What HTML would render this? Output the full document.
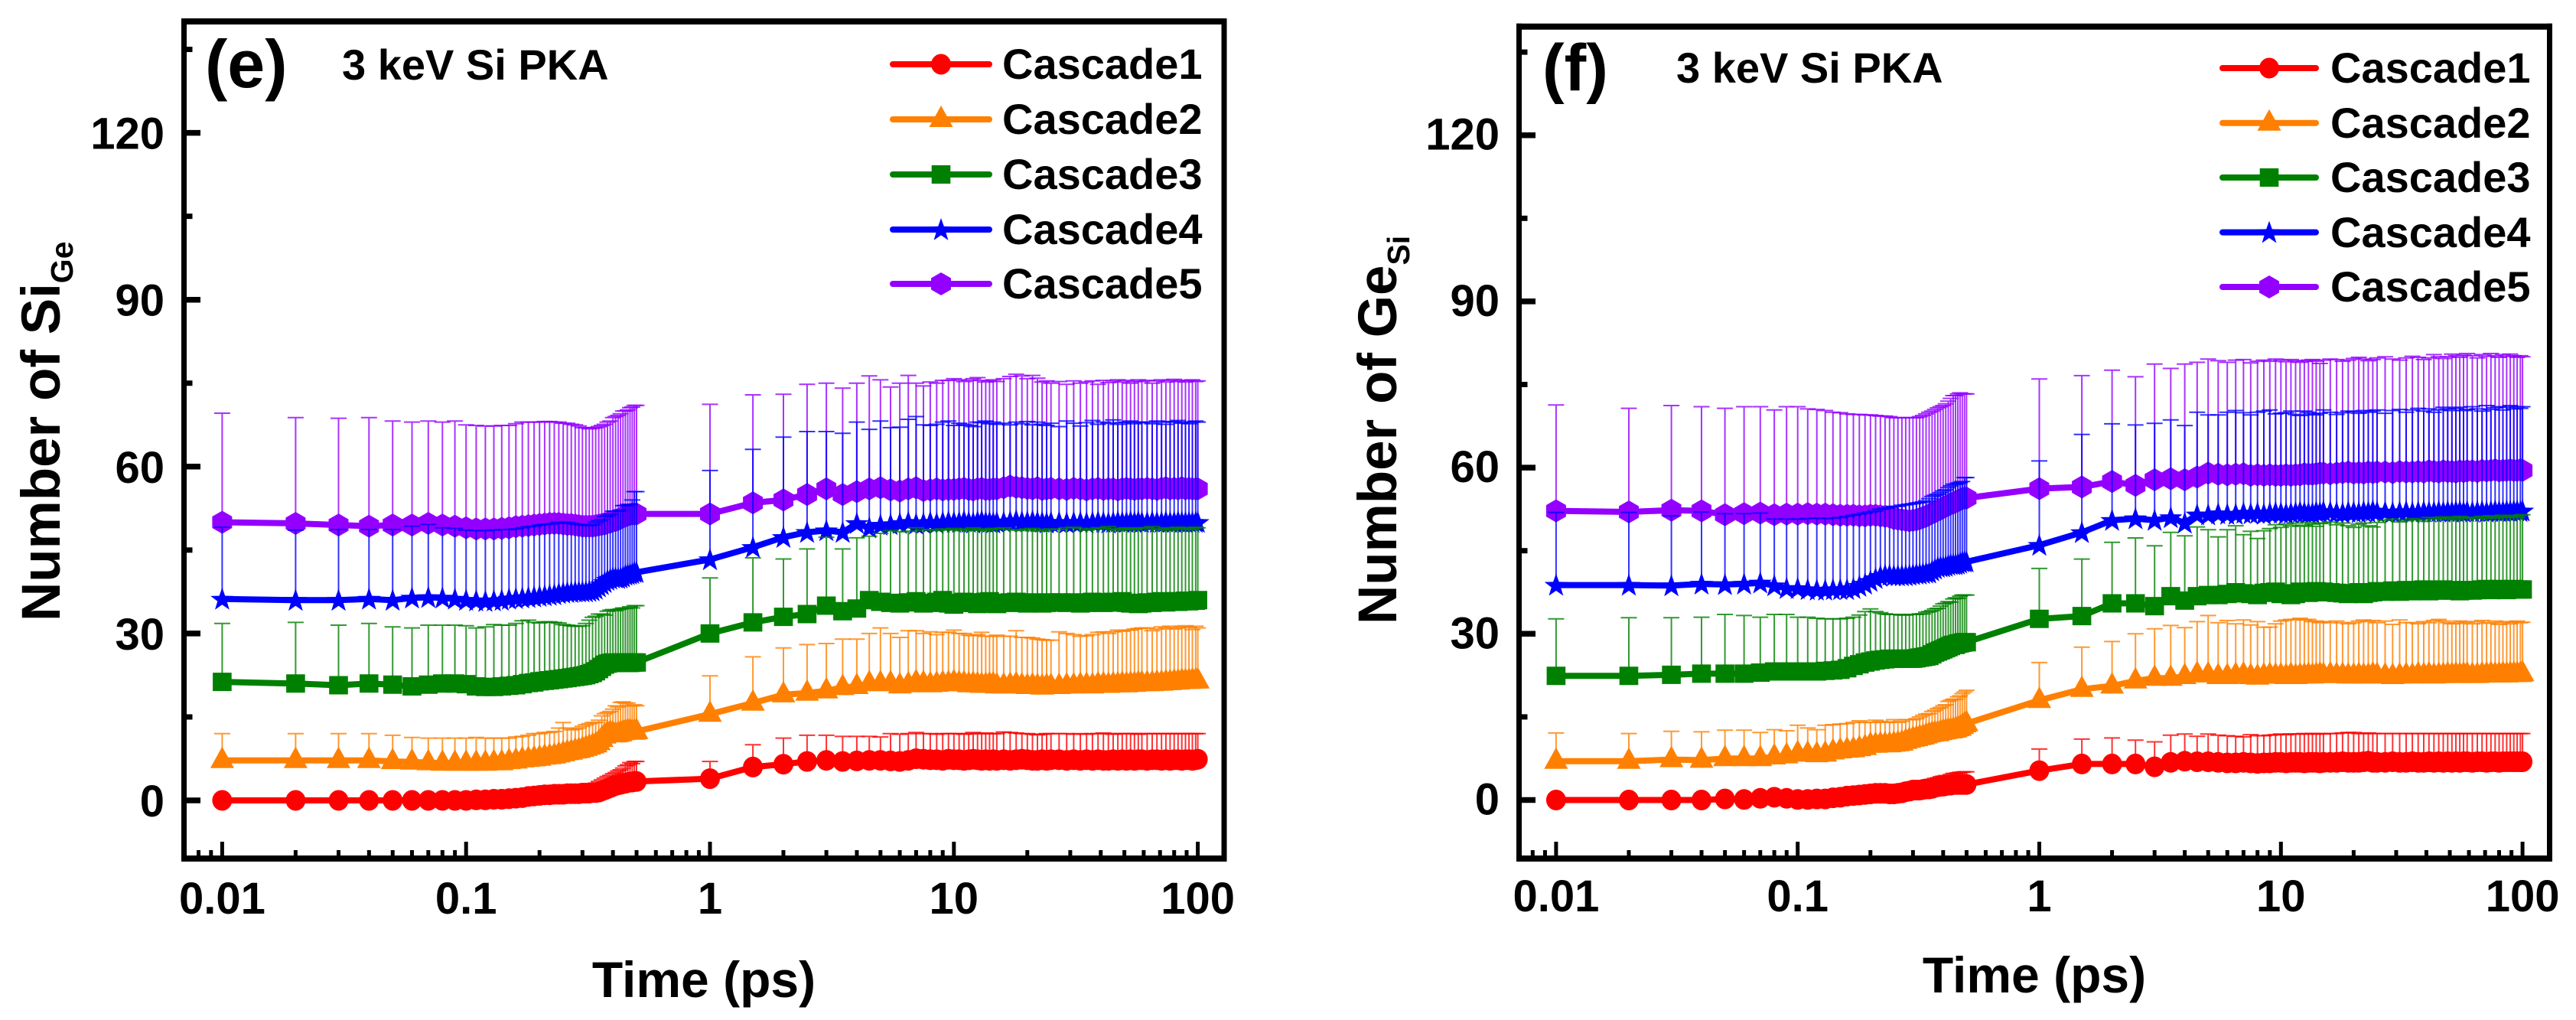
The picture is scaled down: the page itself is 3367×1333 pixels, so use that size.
<!DOCTYPE html>
<html lang="en">
<head>
<meta charset="utf-8">
<title>Number of antisite defects vs time for 3 keV Si PKA</title>
<style>
html,body{margin:0;padding:0;background:#fff;}
svg{display:block;}
text{font-family:"Liberation Sans",Arial,sans-serif;font-weight:bold;fill:#000;}
</style>
</head>
<body>
<svg id="figure" xmlns="http://www.w3.org/2000/svg" width="3367" height="1333" viewBox="0 0 3367 1333">
<rect x="0" y="0" width="3367" height="1333" fill="#fff"/>
<g id="panel-e">
<text x="268" y="114" font-size="88">(e)</text>
<text x="447" y="104" font-size="56">3 keV Si PKA</text>
<text x="920" y="1303" font-size="66" text-anchor="middle">Time (ps)</text>
<text transform="translate(78,812) rotate(-90)" font-size="71">Number of Si<tspan dy="17" font-size="41">Ge</tspan></text>
<text x="1310" y="103" font-size="56">Cascade1</text>
<text x="1310" y="175" font-size="56">Cascade2</text>
<text x="1310" y="247" font-size="56">Cascade3</text>
<text x="1310" y="319" font-size="56">Cascade4</text>
<text x="1310" y="390" font-size="56">Cascade5</text>
</g>
<g id="panel-f">
<text x="2016" y="118" font-size="86">(f)</text>
<text x="2191" y="108" font-size="56">3 keV Si PKA</text>
<text x="2659" y="1297" font-size="66" text-anchor="middle">Time (ps)</text>
<text transform="translate(1825,816) rotate(-90)" font-size="71">Number of Ge<tspan dy="17" font-size="41">Si</tspan></text>
<text x="3046" y="108" font-size="56">Cascade1</text>
<text x="3046" y="180" font-size="56">Cascade2</text>
<text x="3046" y="251" font-size="56">Cascade3</text>
<text x="3046" y="323" font-size="56">Cascade4</text>
<text x="3046" y="394" font-size="56">Cascade5</text>
</g>
</svg>
<script>
const times=[0.01,0.02,0.03,0.04,0.05,0.06,0.07,0.08,0.09,0.1,0.11,0.12,0.13,0.14,0.15,0.16,0.17,0.18,0.19,0.2,0.21,0.22,0.23,0.24,0.25,0.26,0.27,0.28,0.29,0.3,0.31,0.32,0.33,0.34,0.35,0.36,0.37,0.38,0.39,0.4,0.41,0.42,0.43,0.44,0.45,0.46,0.47,0.48,0.49,0.5,
1,1.5,2,2.5,3,3.5,4,4.5,5,5.5,6,6.5,7,7.5,8,8.5,9,9.5,10,
10.5,11,11.5,12,12.5,13,13.5,14,14.5,15,16,17,18,19,20,21,22,23,24,25,
27,29,31,33,35,37,39,41,43,45,47,49,51,53,55,57,59,
62,65,68,71,74,77,80,83,86,89,92,95,98,100];

const eMean1=[0,0,0,0,0,0,0,0,0,0,.1,.1,.2,.2,.3,.4,.5,.7,.8,.9,1,1,1.1,1.1,1.1,1.2,1.2,1.2,1.2,1.3,1.3,1.3,1.4,1.4,1.5,1.7,1.9,2.1,2.3,2.5,2.7,2.8,2.9,3,3.1,3.2,3.3,3.3,3.4,3.4,
3.9,6,6.5,7,7.2,7,7.1,7.2,7.2,7.1,7,7.2,7.5,7.4,7.3,7.3,7.2,7.4,7.3,
7.3,7.2,7.3,7.4,7.3,7.2,7.3,7.2,7.3,7.2,7.3,7.2,7.3,7.4,7.3,7.2,7.2,7.3,7.2,7.3,
7.3,7.2,7.3,7.2,7.3,7.2,7.3,7.2,7.2,7.3,7.2,7.3,7.2,7.3,7.2,7.3,7.3,
7.2,7.3,7.3,7.2,7.3,7.2,7.3,7.3,7.2,7.3,7.3,7.2,7.3,7.4];
const eTop1=[0,0,0,0,0,0,0,0,0,0,.4,.5,.6,.6,.8,1,1.2,1.4,1.6,1.8,1.9,2,2,2.1,2.1,2.2,2.2,2.3,2.4,2.5,2.6,2.7,2.9,3.1,3.4,3.7,4,4.3,4.5,4.8,5,5.3,5.5,5.8,6.2,6.4,6.8,6.6,7,7,
7,10,11.2,11.7,11.7,11.5,11.5,11.5,11.4,12,11.9,12,12.2,12,12,11.9,12,12,12,
12,11.9,12,12.2,12,12,12.1,12,12,12,12.3,12.2,12.1,12,12,11.9,11.8,11.9,12,12,
12,12,11.9,12,11.9,12,12,12.1,12,11.9,12,12,12,12,12,11.9,12,
12,12,12,12,12,12,12,12,12,12,12,12,12,12];
const eMean2=[7.2,7.2,7.2,7.2,7,6.9,6.8,6.7,6.7,6.7,6.7,6.7,6.8,6.8,7,7.1,7.3,7.4,7.5,7.6,7.8,7.9,8,8.2,8.4,8.6,8.7,8.9,9,9.2,9.4,9.6,9.8,10,10.4,11,11.6,12,12.1,12,11.8,11.9,12,12.2,12.3,12.4,12.4,12.3,12.3,12.4,
15.5,17.5,19,19.3,19.7,20.3,20.5,21,21,21,20.6,20.8,21.2,21,20.8,20.9,21,21,21.2,
21,21,20.8,20.9,20.8,20.7,20.7,20.8,20.8,20.6,20.6,20.7,20.8,20.6,20.5,20.6,20.5,20.4,20.5,20.5,
20.5,20.6,20.6,20.7,20.7,20.6,20.8,20.8,20.7,20.8,20.8,20.9,20.8,20.9,20.9,21,21,
21,21,21.1,21.1,21.2,21.2,21.3,21.3,21.4,21.4,21.4,21.5,21.5,21.5];
const eTop2=[12,12,12,12,11.7,11.3,11.2,11.2,11.2,11.2,11.3,11.2,11.2,11.2,11.2,11.4,11.5,11.7,12,12,12.2,12.2,12.4,13,14,13,12.7,12.8,13,13.3,13.6,13.8,14,14,14.4,15.2,15.6,15.8,16,16.4,17,16.8,17.6,17.7,17.5,17.5,17,17,17.2,17,
22.4,25.8,27.4,28,28.2,29,29,30,31,30,29.3,30.5,30.5,30,30.3,29.8,30.2,30.2,30.6,
30,30,29.7,29.6,29.8,30.2,29.5,29.5,29.5,29.7,29.5,29.5,30.5,29.3,29.3,29.2,29,28.9,28.8,28.8,
30.3,30,29.8,29.5,29.6,29.8,30.2,30.3,30,30.3,30.6,30.4,30.6,30.6,30.8,30.9,31,
31,30.5,30.8,31.2,31,31.3,30.8,31,31.2,31.4,31.1,30.7,31.3,31];
const eMean3=[21.3,21,20.7,21,20.8,20.5,20.8,21,21,20.9,20.5,20.4,20.4,20.5,20.6,20.7,20.9,21.1,21.2,21.4,21.5,21.6,21.7,21.8,21.9,22,22.1,22.2,22.3,22.4,22.5,22.7,22.9,23.2,23.6,24,24.4,24.6,24.7,24.8,24.7,24.7,24.8,24.8,24.7,24.7,24.7,24.8,24.8,24.8,
30,32,33,33.5,35,34,34.5,36,35.7,35.5,35.4,35.6,35.8,35.4,35.5,35.7,36,35.4,35.2,
35.5,35.7,35.6,35.5,35.3,35.6,35.7,35.8,35.4,35.3,35.5,35.6,35.7,35.5,35.4,35.6,35.5,35.4,35.5,35.6,
35.6,35.5,35.6,35.4,35.5,35.7,35.6,35.5,35.6,35.7,35.6,35.8,35.5,35.4,35.5,35.3,35.4,
35.6,35.5,35.7,35.8,35.6,35.7,35.8,35.7,35.8,35.9,35.8,35.9,35.9,36];
const eTop3=[31.8,32,31.5,31.8,31.2,31,31.5,31.5,31.5,31.4,31,31.2,31.6,31.5,31.5,31.8,32.3,32.4,32,31.9,32.1,32.1,32,31.9,31.6,31.5,31.4,31.3,31.3,31.4,31.8,32.4,32.9,33.1,33.5,33.5,33.3,34,34.2,34.3,34.1,34.3,34.4,34.6,34.5,34.6,34.8,34.6,35,35,
40,43.6,43.4,45.2,47.3,45.2,47.2,47.5,48,48.5,48.3,48.4,49,48.6,48.7,48.5,48.8,48.6,48.9,
48.7,48.5,48.8,49,48.6,48.8,48.5,48.7,48.9,48.8,49,48.7,48.6,48.5,48.8,48.9,48.6,48.4,48.7,48.8,
48.7,49,49.1,48.9,48.6,48.8,49,48.9,49.2,48.8,48.6,48.9,49,48.8,48.7,48.9,49,
49,49.2,48.7,48.8,49,48.6,48.9,49.1,48.8,49,48.7,48.9,49.1,49];
const eMean4=[36.2,36,36,36.2,36,36.4,36.5,36.4,36.2,36,35.9,35.8,35.9,36,36.2,36.3,36.4,36.5,36.6,36.7,36.8,36.9,37,37.2,37.3,37.4,37.4,37.5,37.5,37.5,37.5,37.6,37.7,38,38.4,38.8,39.2,39.6,39.8,40,40,39.9,40,40.2,40.5,40.6,40.7,40.8,41,41,
43.3,45.5,47.3,48.2,48.5,48.2,49.8,49,49.5,49.6,49.8,50,49.7,49.8,50,49.8,50,50.1,50,
50,50.2,50,49.9,50.1,50.2,50,50,49.9,50,50,50.1,50.3,50.1,50.1,50.2,50.1,50,49.9,50,
50,49.9,50,50,49.9,50,50.1,50,49.9,50,50.1,50,50,50.1,50,50.1,50,
50,50.1,50,50,50.1,50,50,50.1,50,50,50,50,50,50];
const eTop4=[49.1,48.6,48.7,48.7,48.7,49.3,49.6,49,48.9,48.6,48.5,48.5,48.6,48.7,48.7,48.8,49,49.2,49.3,49.5,49.6,49.7,49.8,50,50,50,49.8,49.7,49.6,49.5,49.5,49.4,49.6,50,50.3,50.5,51,51.2,51.5,52,52,52,52.2,53,53,53.2,53.2,54,55.5,55.5,
59.3,63.1,65.3,66.3,66.3,66,68,66.7,68.2,67,67.1,68.5,69,67.5,67.4,67.6,68,68.2,67.4,
67.8,67.6,67.4,67.2,68,67.9,68.2,67.7,68,67.6,67.8,67.5,68,67.7,68.1,67.5,68,67.6,67.4,67.8,
67.2,68.2,67.8,67.3,67.9,68.3,67.6,68,67.8,68.4,67.6,67.9,68,68.2,67.7,68,67.9,
68,67.7,68.2,68,67.6,68.1,68,68.3,67.8,68,67.7,68,68.2,68];
const eMean5=[50,49.8,49.5,49.3,49.5,49.5,49.8,49.5,49.3,49,48.8,48.8,48.8,48.9,49,49.2,49.3,49.4,49.5,49.6,49.7,49.8,49.8,49.8,49.7,49.6,49.6,49.5,49.4,49.3,49.3,49.3,49.3,49.4,49.5,49.6,49.7,49.9,50,50.2,50.3,50.5,50.7,51,51.1,51.3,51.4,51.5,51.5,51.5,
51.5,53.5,54,55,56,55,55.5,56,56.2,55.8,55.6,56,56.2,55.7,55.8,56,55.8,55.9,55.9,
56,56.1,55.9,55.8,56,56.1,55.9,55.9,56,56,56.2,56.5,56.3,56.2,56.1,56,56.2,55.9,56,56.1,
56,55.9,56.1,56,55.8,56,56.1,55.9,56,56,55.8,56,56.1,56,55.9,56,56,
56.1,56,55.9,56.1,56.2,56,56.1,56,56.2,56,56.1,56,56,56];
const eTop5=[69.6,68.8,68.7,68.8,68.2,68,68.2,68,68.2,67.5,67.4,67.3,67.3,67.4,67.4,67.7,68,68,68,68,68.1,68.1,68,68,67.8,67.8,67.6,67.5,67.3,67,67,66.8,66.9,67,67.2,67.4,67.6,68,68.2,68.8,69,69.2,69.5,70,70,70.2,70.6,70.7,71,71,
71.2,72.9,73,74.8,75,74.1,75,76.3,75.6,74.3,75,76.4,75,74.5,75.2,75,75.5,75.5,75.8,
75.6,75.3,75.5,75.8,76,75.5,75.2,75.4,75.6,75.3,75.8,76.2,76.6,76.3,75.8,76.4,75.9,75.2,75.4,75,
75.3,74.8,75.4,75,75.2,75.4,74.8,75.5,75.1,75.4,75.6,75.2,75.5,75,75.3,75.6,75.3,
75.5,75,75.4,75.6,75.2,75.5,75.7,75.3,75.5,75.2,75.5,75.6,75.3,75.4];

const fMean1=[0,0,0,0,.2,.1,.3,.5,.3,.1,.1,.2,.2,.4,.5,.7,.8,.9,1,1.1,1.2,1.2,1.2,1.1,1.1,1.2,1.3,1.5,1.6,1.8,1.8,1.8,1.9,2,2,2.1,2.3,2.4,2.5,2.5,2.6,2.7,2.7,2.8,2.8,2.8,2.8,2.8,2.8,2.8,
5.3,6.5,6.5,6.5,6,6.8,7,6.9,6.9,6.8,6.7,6.7,6.8,6.7,6.6,6.7,6.7,6.8,6.8,
6.7,6.8,6.8,6.8,6.7,6.8,6.8,6.8,6.7,6.8,6.8,6.8,6.9,6.8,6.8,6.8,6.9,7,6.8,6.8,
6.8,6.9,6.8,6.8,6.9,6.8,6.8,6.9,6.8,6.9,6.8,6.9,6.8,6.9,6.8,6.9,6.9,
6.8,6.9,6.9,6.8,6.9,6.9,6.8,6.9,6.9,6.9,6.9,6.9,6.9,6.9];
const fTop1=[0,0,0,0,.5,.4,.8,1,.8,.5,.5,.7,.8,1,1.2,1.4,1.5,1.7,1.8,1.9,2,2,2.1,2.1,2.2,2.3,2.4,2.6,2.7,3,3,3.1,3.3,3.5,3.6,3.7,3.9,4,4.2,4.3,4.4,4.4,4.6,4.8,4.8,4.9,5,5,5.1,5.1,
9.2,11,11.2,10.8,10.5,11.7,11.9,11.5,11.9,11.7,11.6,11.5,11.4,11.8,11.6,11.6,11.7,11.8,11.9,
11.8,11.9,11.9,11.9,12,11.9,12,11.9,12,11.9,12,12,12.1,12.2,12.2,12,12,12.1,12,12,
12,12,12,12,12,12,12,12,12,12,12,12,12,12,12,12,12,
12,12,12,12,12,12,12,12,12,12,12,12,12,12];
const fMean2=[7,7,7.3,7.2,7.5,7.5,7.5,7.8,8,8.4,8.3,8.2,8.3,8.7,8.9,9,9.1,9.3,9.5,9.9,9.9,10,10,10,10.1,10.2,10.3,10.6,10.8,11,11.1,11.3,11.4,11.6,11.8,11.9,12,12,12.2,12.3,12.4,12.5,12.5,12.6,12.7,12.9,13,13.3,13.6,13.8,
18,20,20.6,21.5,22,22,22.3,22.7,22.6,22.3,22.3,22.5,22.6,22.3,22.2,22.4,22.5,22.4,22.4,
22.3,22.5,22.3,22.4,22.4,22.5,22.4,22.5,22.6,22.5,22.6,22.5,22.5,22.4,22.4,22.5,22.4,22.4,22.6,22.5,
22.4,22.3,22.4,22.5,22.4,22.6,22.5,22.6,22.4,22.5,22.5,22.6,22.5,22.6,22.5,22.6,22.6,
22.5,22.5,22.6,22.6,22.7,22.6,22.6,22.7,22.6,22.7,22.7,22.7,22.7,22.8];
const fTop2=[12.1,12,12.4,12.3,12.6,12.6,12.2,12.7,12.5,13.5,13,12.7,13.5,13.6,13.7,13.8,14,14.3,14,14,14.4,14.2,14,14.1,14.5,14,14.2,14.5,14.5,14.5,14.7,15,15.3,15.5,15.6,16,16.2,16.5,16.7,17,17.2,17.8,18,18.2,18.2,18.6,18.8,19.2,19.5,19.8,
24.8,27.6,28.6,30,30.9,31.5,31.1,32.2,33.3,32,32.4,31.8,32.5,31.6,32.2,31.2,31.2,31.8,32.3,
32.5,32.6,32.6,32.8,32.5,32.6,32.2,32.3,32,32.2,32,32.3,32,31.8,32,32.3,32.5,32.2,32.4,32,
32.3,31.7,32.5,32,32,31.8,32.2,32,32.4,32.6,32.3,32,31.8,31.9,32.3,32.2,32,
31.8,32.2,32.4,31.9,32,32.3,31.7,32,32.2,31.8,32.1,32.3,32,32.1];
const fMean3=[22.4,22.4,22.6,22.8,22.8,22.8,23,23.2,23.2,23.2,23.2,23.2,23.3,23.4,23.5,23.8,24.2,24.5,24.8,25,25.2,25.3,25.4,25.5,25.5,25.5,25.5,25.5,25.5,25.5,25.6,25.7,25.8,25.9,26,26.3,26.6,26.8,27,27.2,27.4,27.6,27.8,28,28,28.2,28.3,28.4,28.5,28.5,
32.7,33.2,35.5,35.5,35,36.8,36,36.8,37,37,37.2,37.5,37.3,37.2,37,37.4,37.5,37.6,37.2,
37.3,37,37.2,37.6,37.5,37.4,37.6,37.7,37.5,37.6,37.5,37.4,37.3,37.2,37.3,37.5,37.2,37.4,37.5,37.7,
37.6,37.8,37.6,37.9,37.7,37.8,38,37.7,37.9,37.8,38,37.8,37.9,37.8,37.7,37.8,37.9,
37.8,37.9,38,38.1,37.9,38,38.1,38,37.9,38,38.1,38,38,38];
const fTop3=[32.7,32.9,32.9,33,33.5,33.3,33,33.5,33.5,33,33,32.8,32.7,32.7,32.7,32.8,33,33.4,34,34.5,34,33.8,33.6,33.5,33.5,33.5,33.4,33.4,33.5,33.5,33.5,33.6,33.6,33.9,34,34.2,34.5,34.6,35,35.4,35.5,35.8,35.7,36.3,36.5,36.4,36.8,37,37,37,
41.8,43.5,46.5,47.3,45.9,48.3,47.7,49.3,48.8,47.5,48.8,49.5,47.9,48.5,47.2,48.6,49,49.7,49.2,
49.8,49.5,50,49.4,49.6,50.1,49.8,49.4,49.9,50,50.2,49.7,50,49.5,49.2,49.8,50,49.5,49.3,50.1,
50.5,50.7,50.2,50.4,50.8,50.6,50.3,51,50.7,50.9,51.1,50.8,51,50.6,51.2,50.9,51,
51,50.8,51.2,51,51.3,50.9,51.1,51.4,51,51.2,51.3,51,51.4,51.5];
const fMean4=[38.8,38.8,38.7,39,38.9,39,39.2,38.7,38.2,38.2,38,37.9,37.9,38,38,38,38.2,38.6,39,39.5,40,40.4,40.6,40.6,40.5,40.5,40.5,40.5,40.6,40.7,40.8,40.8,40.9,41,41,41.4,41.7,42,42.1,42.1,42.2,42.4,42.5,42.5,42.5,42.6,42.8,43,43,43,
46,48.3,50.5,50.8,50.5,51,50,51.5,51.5,51.7,51.6,51.6,51.8,51.7,51.8,51.6,51.8,51.9,51.8,
51.7,51.8,51.9,52,51.9,51.8,51.8,52,51.9,52.1,52,51.9,51.8,52,52,51.9,52.1,52,52.2,52,
52,51.9,52,52.1,51.9,52,52.1,52,52,52.1,52,52.1,52,52.1,52.1,52,52.1,
52,52.1,52.1,52,52.1,52.2,52.1,52.1,52.2,52.1,52.2,52.2,52.1,52.2];
const fTop4=[51.9,51.9,51.3,52,51.7,51.7,51.8,50.7,50.7,50.7,50.8,50.9,50.8,50.9,51,51.2,51.4,51.6,51.8,52,52.2,52.5,52.7,52.8,53,53,53.2,53.3,53.4,53.5,53.6,53.7,53.8,54,54.4,54.8,55,55.2,55.5,55.8,56,56.4,56.7,57,57,57.2,57.3,57.5,58.2,58.2,
61.2,66,67.9,67.7,68,68.6,67.6,70,69.5,69.5,70,70.3,69.9,69.5,70,70.2,70.4,69.7,69.8,
69.9,70.2,69.6,69.4,70.2,70,69.7,69.5,69.8,70.4,70,69.6,69.9,70.2,70.1,69.8,70.3,70,70.2,70.4,
69.8,70.3,70.5,70,70.4,70.7,70.2,70.6,70,70.4,70.9,70.6,70.3,70.7,70.9,70.3,70.5,
71,70.6,70.2,71.2,70.5,70.8,71,70.4,70.9,71.2,70.6,71,70.7,71];
const fMean5=[52.2,52,52.3,52.2,51.5,51.7,51.8,51.5,51.6,51.6,51.7,51.6,51.6,51.5,51.4,51.4,51.4,51.3,51.3,51.4,51.4,51.3,51.2,51.1,50.8,50.7,50.6,50.5,50.4,50.5,50.6,50.8,51,51.2,51.5,51.8,52,52.3,52.5,52.8,53,53.2,53.5,53.6,53.8,54,54.2,54.4,54.5,54.5,
56.2,56.5,57.5,56.8,57.8,58,57.8,58.3,59,58.8,58.7,58.8,58.9,58.6,58.7,58.6,58.7,58.6,58.6,
58.7,58.6,58.7,58.7,58.9,58.8,58.8,58.9,59,59,58.9,59,59.1,59.2,59,59.1,59,59.2,59.1,59.2,
59.2,59.1,59.3,59.2,59.2,59.3,59.2,59.4,59.3,59.2,59.4,59.3,59.3,59.2,59.4,59.3,59.4,
59.4,59.3,59.5,59.4,59.5,59.6,59.4,59.5,59.5,59.6,59.5,59.5,59.6,59.5];
const fTop5=[71.3,70.7,71.2,71,70.7,71,71,70.4,71,71,70.6,70.5,70.3,70,69.9,69.7,69.6,69.6,69.5,69.5,69.4,69.3,69.3,69.2,69,69,69,69,69,69,69,69.2,69.4,69.7,70,70.2,70.5,70.8,71,71.2,71.5,72,72.5,73,73,73.3,73.5,73.3,73.3,73.3,
76,76.6,77.6,76.4,78.7,77.9,78.7,79,79.6,79.3,79,79.4,79.5,78.9,79.2,79.4,79.2,79.6,79.4,
79.1,79.5,79.3,79,79.2,79.4,79.5,79.2,78.8,79.4,79.6,79.5,79.2,79.4,79.7,79.9,79.6,79.3,79.5,79.8,
80,79.6,79.4,79.8,80.1,79.9,79.5,79.8,80.4,80,79.7,80,80.5,80.2,79.9,80.3,80.6,
80.2,79.8,80.4,80.1,80.6,80.2,79.9,80.4,80.1,80.5,80.2,79.9,80.2,80];

const xTickValues=[0.01,0.1,1,10,100];
const xTickLabels=["0.01","0.1","1","10","100"];
const xMinorValues=[0.008,0.009,0.02,0.03,0.04,0.05,0.06,0.07,0.08,0.09,0.2,0.3,0.4,0.5,0.6,0.7,0.8,0.9,2,3,4,5,6,7,8,9,20,30,40,50,60,70,80,90];
const yTickValues=[0,30,60,90,120];
const yTickLabels=["0","30","60","90","120"];
const yMinorValues=[15,45,75,105,135];
const seriesNames=["cascade1","cascade2","cascade3","cascade4","cascade5"];

const seriesColors=["#ff0000","#ff8000","#008000","#0000ff","#9400ff"];
const seriesShapes=["circle","triangle","square","star","hexagon"];
const eMeans=[eMean1,eMean2,eMean3,eMean4,eMean5];
const eTops=[eTop1,eTop2,eTop3,eTop4,eTop5];
const fMeans=[fMean1,fMean2,fMean3,fMean4,fMean5];
const fTops=[fTop1,fTop2,fTop3,fTop4,fTop5];

const NS="http://www.w3.org/2000/svg";

function makeScaleX(xAt1,decade){
  return function(t){return xAt1+decade*Math.log10(t);};
}
function makeScaleY(y0,unit){
  return function(v){return y0-unit*v;};
}
function addShape(parent,tag,attrs){
  const el=document.createElementNS(NS,tag);
  for(const k in attrs){el.setAttribute(k,attrs[k]);}
  parent.appendChild(el);
  return el;
}
function markerPath(shape,cx,cy){
  let pts;
  if(shape==="triangle"){
    pts=[[0,-18],[15.5,10],[-15.5,10]];
  }else if(shape==="square"){
    pts=[[-12.3,-12],[12.3,-12],[12.3,12],[-12.3,12]];
  }else if(shape==="hexagon"){
    pts=[[0,-15],[13,-7.5],[13,7.5],[0,15],[-13,7.5],[-13,-7.5]];
  }else if(shape==="star"){
    pts=[];
    for(let i=0;i<10;i++){
      const r=i%2===0?16:6.4;
      const a=-Math.PI/2+i*Math.PI/5;
      pts.push([r*Math.cos(a),r*Math.sin(a)+1]);
    }
  }
  return "M"+pts.map(function(p){return (cx+p[0]).toFixed(1)+","+(cy+p[1]).toFixed(1);}).join("L")+"Z";
}
function drawMarker(parent,shape,cx,cy,color){
  if(shape==="circle"){
    return addShape(parent,"ellipse",{cx:cx.toFixed(1),cy:cy.toFixed(1),rx:13,ry:13.5,fill:color});
  }
  return addShape(parent,"path",{d:markerPath(shape,cx,cy),fill:color});
}
function drawFrameAndTicks(group,p,sx,sy){
  const L=p.left,R=p.right,T=p.top,B=p.bottom;
  const bottomLine=addShape(group,"line",{x1:L-3.5,x2:R+3.5,y1:B,y2:B,stroke:"#000","stroke-width":8});
  
  
  const topLine=addShape(group,"line",{x1:L-3.5,x2:R+3.5,y1:T,y2:T,stroke:"#000","stroke-width":8});
  
  
  const leftLine=addShape(group,"line",{x1:L,x2:L,y1:T-4,y2:B+4,stroke:"#000","stroke-width":7});
  
  
  const rightLine=addShape(group,"line",{x1:R,x2:R,y1:T-4,y2:B+4,stroke:"#000","stroke-width":7});
  
  

  xTickValues.forEach(function(t,i){
    const x=sx(t);
    const tick=addShape(group,"line",{x1:x,x2:x,y1:B,y2:B-22,stroke:"#000","stroke-width":5});
    
    
    const label=addShape(group,"text",{x:x,y:p.xLabelY,"font-size":58,"text-anchor":"middle"});
    label.textContent=xTickLabels[i];
    
    
  });
  xMinorValues.forEach(function(t){
    const x=sx(t);
    const tick=addShape(group,"line",{x1:x,x2:x,y1:B,y2:B-11,stroke:"#000","stroke-width":5});
    
    
  });
  yTickValues.forEach(function(v,i){
    const y=sy(v);
    const tick=addShape(group,"line",{x1:L,x2:L+21.5,y1:y,y2:y,stroke:"#000","stroke-width":7.5});
    
    
    const label=addShape(group,"text",{x:L-25.5,y:y+p.yLabelShift,"font-size":58,"text-anchor":"end"});
    label.textContent=yTickLabels[i];
    
    
  });
  yMinorValues.forEach(function(v){
    const y=sy(v);
    const tick=addShape(group,"line",{x1:L,x2:L+11,y1:y,y2:y,stroke:"#000","stroke-width":7});
    
    
  });
}
function drawSeries(group,means,tops,sx,sy){
  for(let s=seriesNames.length-1;s>=0;s--){
    const color=seriesColors[s];
    const g=addShape(group,"g",{});
    
    
    const n=Math.min(times.length,means[s].length,tops[s].length);
    for(let i=0;i<n;i++){
      if(tops[s][i]<=means[s][i]){continue;}
      const x=sx(times[i]);
      const y1=sy(means[s][i]);
      const y2=sy(tops[s][i]);
      const bar=addShape(g,"path",{
        d:"M"+x.toFixed(1)+","+y1.toFixed(1)+"V"+y2.toFixed(1)+"M"+(x-10.5).toFixed(1)+","+y2.toFixed(1)+"H"+(x+10.5).toFixed(1),
        stroke:color,"stroke-width":2,"stroke-opacity":0.8,fill:"none"});
      
      
    }
    const linePts=[];
    for(let i=0;i<n;i++){
      linePts.push(sx(times[i]).toFixed(1)+","+sy(means[s][i]).toFixed(1));
    }
    const line=addShape(g,"polyline",{points:linePts.join(" "),fill:"none",stroke:color,"stroke-width":8,"stroke-linejoin":"round"});
    
    
    for(let i=0;i<n;i++){
      const m=drawMarker(g,seriesShapes[s],sx(times[i]),sy(means[s][i]),color);
      
      
    }
  }
}
function drawLegend(group,p){
  seriesNames.forEach(function(name,s){
    const y=p.legendY[s];
    const line=addShape(group,"line",{x1:p.legendX1,x2:p.legendX2,y1:y,y2:y,stroke:seriesColors[s],"stroke-width":8,"stroke-linecap":"round"});
    
    
    const m=drawMarker(group,seriesShapes[s],(p.legendX1+p.legendX2)/2,y,seriesColors[s]);
    
    
  });
}

const panelEGeom={left:240.5,right:1600,top:28,bottom:1122,xLabelY:1194,yLabelShift:21,legendX1:1167,legendX2:1293,legendY:[84,156,228,300,371]};
const panelFGeom={left:1985.5,right:3332.5,top:34.7,bottom:1122,xLabelY:1191,yLabelShift:19,legendX1:2905,legendX2:3027,legendY:[89,160.7,232,303.6,375]};

const scaleXE=makeScaleX(928,318.8);
const scaleYE=makeScaleY(1046,7.27);
const scaleXF=makeScaleX(2665.5,315.8);
const scaleYF=makeScaleY(1045.5,7.24);

const groupE=document.getElementById("panel-e");
const groupF=document.getElementById("panel-f");
drawSeries(groupE,eMeans,eTops,scaleXE,scaleYE);
drawFrameAndTicks(groupE,panelEGeom,scaleXE,scaleYE);
drawLegend(groupE,panelEGeom);
drawSeries(groupF,fMeans,fTops,scaleXF,scaleYF);
drawFrameAndTicks(groupF,panelFGeom,scaleXF,scaleYF);
drawLegend(groupF,panelFGeom);
</script>
</body>
</html>
